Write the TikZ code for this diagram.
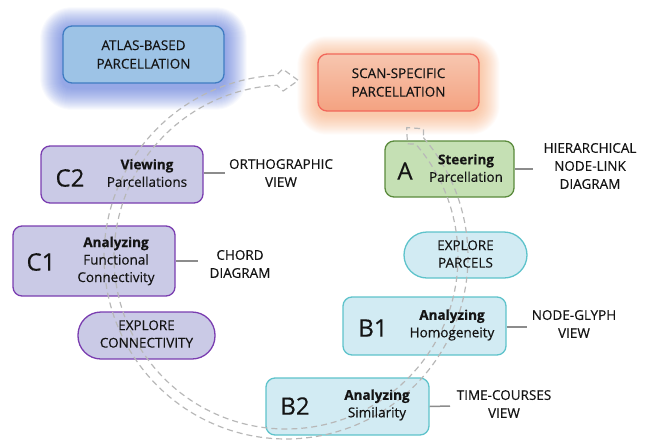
\documentclass[tikz,border=0pt]{standalone}
\usepackage{fontspec}
\setmainfont{Open Sans}[FakeBold=0.35]
\usetikzlibrary{calc,backgrounds}
\definecolor{atlasfill}{HTML}{9DC3E6}
\definecolor{atlasdraw}{HTML}{3F7CC2}
\definecolor{atlasglow}{HTML}{4C6AD4}
\definecolor{scantop}{HTML}{F7C6AF}
\definecolor{scanbot}{HTML}{F4A281}
\definecolor{scandraw}{HTML}{F2675A}
\definecolor{scanglow}{HTML}{F59A60}
\definecolor{grnfill}{HTML}{C5E0B4}
\definecolor{grndraw}{HTML}{5A8A3C}
\definecolor{purfill}{HTML}{CACAE6}
\definecolor{purdraw}{HTML}{7A3DB0}
\definecolor{cyanfill}{HTML}{D2EBF3}
\definecolor{cyandraw}{HTML}{5EC3CB}
\definecolor{ringgray}{HTML}{B8B8B8}
\definecolor{linkgray}{HTML}{8C8C8C}
\definecolor{txt}{HTML}{141414}
\begin{document}
\begin{tikzpicture}[x=1pt,y=-1pt,
  box/.style={rectangle, rounded corners=9pt, line width=1.3pt, inner sep=0pt},
  pill/.style={rectangle, line width=1.3pt, inner sep=0pt},
  boxtxt/.style={align=center, font=\fontsize{13.5}{17.5}\selectfont, text=txt, inner sep=0pt},
  lbl/.style={align=center, font=\fontsize{13.5}{18}\selectfont, text=txt, inner sep=0pt},
  letter/.style={font=\fontsize{24}{24}\selectfont, text=txt, inner sep=0pt},
  link/.style={draw=linkgray, line width=1.5pt},
  ring/.style={draw=ringgray, line width=1.2pt, dash pattern=on 6pt off 4pt, line join=round}
]
\useasboundingbox (0,0) rectangle (646,440);

% main boxes
\node[box, fill=atlasfill, draw=atlasdraw, minimum width=161pt, minimum height=57pt,
      align=center, font=\fontsize{13.5}{18.5}\selectfont, text=txt] (atlas) at (143.5,54.5) {ATLAS-BASED\\PARCELLATION};
\node[box, top color=scantop, bottom color=scanbot, draw=scandraw, minimum width=161pt, minimum height=57pt,
      align=center, font=\fontsize{13.5}{18.5}\selectfont, text=txt] (scan) at (398.5,82.5) {SCAN-SPECIFIC\\PARCELLATION};

\begin{scope}[on background layer]
  \foreach \i in {1,...,22}{
    \pgfmathsetmacro\rr{9+\i}
    \fill[atlasglow, opacity=0.04, rounded corners=\rr pt]
      ($(atlas.north west)+(-\i,-\i+4)$) rectangle ($(atlas.south east)+(\i,\i+4)$);
  }
  \foreach \i in {1,...,20}{
    \pgfmathsetmacro\rr{9+\i}
    \fill[scanglow, opacity=0.035, rounded corners=\rr pt]
      ($(scan.north west)+(-\i,-\i+3)$) rectangle ($(scan.south east)+(\i,\i+3)$);
  }
\end{scope}

\node[box, fill=grnfill, draw=grndraw, minimum width=129pt, minimum height=56pt] (bA) at (449.5,169) {};
\node[box, fill=purfill, draw=purdraw, minimum width=162pt, minimum height=57pt] (bC2) at (122,174.5) {};
\node[box, fill=purfill, draw=purdraw, minimum width=162pt, minimum height=70pt] (bC1) at (94,261) {};
\node[pill, rounded corners=23pt, fill=purfill, draw=purdraw, minimum width=137pt, minimum height=47pt] (pC) at (146.5,335.5) {};
\node[pill, rounded corners=23pt, fill=cyanfill, draw=cyandraw, minimum width=123pt, minimum height=46pt] (pB) at (465.5,255) {};
\node[box, fill=cyanfill, draw=cyandraw, minimum width=163pt, minimum height=58pt] (bB1) at (424.5,326) {};
\node[box, fill=cyanfill, draw=cyandraw, minimum width=163pt, minimum height=57pt] (bB2) at (347.5,406.5) {};

% circular hollow dashed arrow
\def\cx{286}\def\cy{257}
\draw[ring]
  plot[variable=\t, domain=-41:267, samples=160] ({\cx+182*cos(\t)},{\cy+182*sin(\t)})
  -- ({\cx+188*cos(269)},{\cy+188*sin(269)})
  -- ({\cx+177*cos(274)},{\cy+177*sin(274)})
  -- ({\cx+166*cos(269)},{\cy+166*sin(269)})
  -- plot[variable=\t, domain=267:-41, samples=160] ({\cx+172*cos(\t)},{\cy+172*sin(\t)})
  -- ({\cx+166*cos(-43)},{\cy+166*sin(-43)})
  -- ({\cx+177*cos(-47)},{\cy+177*sin(-47)})
  -- ({\cx+188*cos(-43)},{\cy+188*sin(-43)})
  -- cycle;

% texts inside boxes
\node[letter] (lA) at (405,171) {A};
\node[boxtxt] (tA) at (466,168) {\textbf{Steering}\\Parcellation};
\node[letter] (lC2) at (70,178) {C2};
\node[boxtxt] (tC2) at (147,173) {\textbf{Viewing}\\Parcellations};
\node[letter] (lC1) at (41,262) {C1};
\node[boxtxt] (tC1) at (116,261) {\textbf{Analyzing}\\Functional\\Connectivity};
\node[boxtxt] (tPC) at (146.5,334) {EXPLORE\\CONNECTIVITY};
\node[boxtxt] (tPB) at (465.5,254) {EXPLORE\\PARCELS};
\node[letter] (lB1) at (373,328) {B1};
\node[boxtxt] (tB1) at (452,325) {\textbf{Analyzing}\\Homogeneity};
\node[letter] (lB2) at (295,406) {B2};
\node[boxtxt] (tB2) at (377,405) {\textbf{Analyzing}\\Similarity};

% side labels
\node[lbl] (labA) at (590,166) {HIERARCHICAL\\NODE-LINK\\DIAGRAM};
\node[lbl] (labC2) at (281,173) {ORTHOGRAPHIC\\VIEW};
\node[lbl] (labC1) at (240,264) {CHORD\\DIAGRAM};
\node[lbl] (labB1) at (574,324) {NODE-GLYPH\\VIEW};
\node[lbl] (labB2) at (504,404) {TIME-COURSES\\VIEW};

\coordinate (eA) at (533,169);
\coordinate (eC2) at (225,173);
\coordinate (eC1) at (198,261);
\coordinate (eB1) at (527,327);
\coordinate (eB2) at (450,406);
\draw[link] (bA.east) -- (eA);
\draw[link] (bC2.east |- eC2) -- (eC2);
\draw[link] (bC1.east) -- (eC1);
\draw[link] (bB1.east |- eB1) -- (eB1);
\draw[link] (bB2.east) -- (eB2);
\end{tikzpicture}
\end{document}
